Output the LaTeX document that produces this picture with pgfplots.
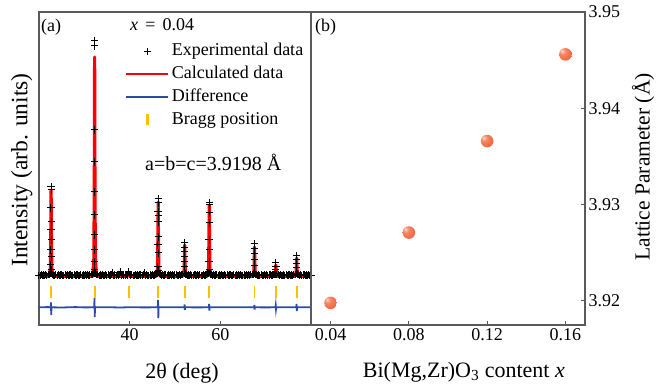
\documentclass[border=0pt]{standalone}
\usepackage{pgfplots}
\pgfplotsset{compat=1.18}
\usepackage{pgfplotstable}
\usepackage{fontspec}
\setmainfont{Liberation Serif}
\definecolor{calcred}{RGB}{255,0,0}
\definecolor{diffblue}{RGB}{45,75,165}
\definecolor{braggyel}{RGB}{255,192,0}
\definecolor{ballc}{RGB}{242,105,65}
\definecolor{axgray}{RGB}{90,90,90}
\pgfdeclareradialshading{myball}{\pgfpoint{-14bp}{14bp}}{%
  color(0bp)=(ballc!25!white); color(12bp)=(ballc!80!white); color(30bp)=(ballc); color(62bp)=(ballc!85!black); color(80bp)=(ballc!85!black)}
\pgfdeclareplotmark{myball}{%
  \pgfpathcircle{\pgfpointorigin}{\pgfplotmarksize}%
  \pgfshadepath{myball}{0}\pgfusepath{}}

\pgfplotstableread{
x y
20.00 49.8
20.25 49.4
20.50 50.3
20.75 49.6
21.00 50.0
21.25 49.5
21.50 50.4
21.75 49.7
22.00 50.2
22.25 50.6
22.50 51.2
22.75 51.5
23.00 50.7
23.25 49.8
23.50 49.5
23.75 50.1
24.00 49.6
24.25 50.3
24.50 49.5
24.75 49.9
25.00 50.4
25.25 49.6
25.50 49.4
25.75 50.1
26.00 49.7
26.25 50.3
26.50 49.5
26.75 49.9
27.00 50.4
27.25 49.5
27.50 49.8
27.75 50.2
28.00 49.6
28.25 49.9
28.50 50.4
28.75 49.4
29.00 49.8
29.25 50.3
29.50 49.6
29.75 50.0
30.00 49.5
30.25 50.2
30.50 49.7
30.75 50.4
31.00 49.5
31.25 49.9
31.50 50.3
31.75 50.7
32.00 51.5
32.25 52.0
32.50 51.8
32.75 50.8
33.00 50.3
33.25 49.6
33.50 50.0
33.75 49.5
34.00 50.2
34.25 49.8
34.50 49.4
34.75 50.1
35.00 49.6
35.25 50.4
35.50 49.5
35.75 49.9
36.00 50.2
36.25 52.8
36.50 49.7
36.75 50.0
37.00 49.5
37.25 50.4
37.50 49.8
37.75 50.1
38.00 53.0
38.25 49.6
38.50 50.2
38.75 49.5
39.00 49.9
39.25 50.3
39.50 49.7
39.75 53.2
40.00 50.5
40.25 49.5
40.50 50.1
40.75 49.8
41.00 49.4
41.25 50.3
41.50 49.7
41.75 50.0
42.00 49.5
42.25 50.2
42.50 49.9
42.75 49.5
43.00 50.1
43.25 52.6
43.50 49.6
43.75 50.3
44.00 49.8
44.25 49.4
44.50 50.0
44.75 49.7
45.00 50.4
45.25 49.5
45.50 49.9
45.75 50.5
46.00 51.2
46.25 51.8
46.50 51.4
46.75 50.6
47.00 49.8
47.25 50.2
47.50 49.5
47.75 49.9
48.00 50.3
48.25 49.6
48.50 50.0
48.75 49.5
49.00 50.2
49.25 49.7
49.50 50.1
49.75 49.5
50.00 49.9
50.25 50.4
50.50 49.6
50.75 49.4
51.00 50.1
51.25 49.8
51.50 50.3
51.75 50.7
52.00 51.1
52.25 51.0
52.50 50.5
52.75 49.7
53.00 50.0
53.25 49.5
53.50 50.2
53.75 49.8
54.00 49.5
54.25 50.3
54.50 49.9
54.75 49.5
55.00 50.1
55.25 49.6
55.50 50.4
55.75 49.8
56.00 49.5
56.25 50.2
56.50 49.7
56.75 50.0
57.00 50.5
57.25 51.1
57.50 51.6
57.75 51.0
58.00 50.4
58.25 49.8
58.50 50.1
58.75 49.5
59.00 49.9
59.25 50.3
59.50 49.6
59.75 50.0
60.00 49.5
60.25 50.2
60.50 49.8
60.75 49.5
61.00 50.1
61.25 49.7
61.50 50.4
61.75 49.6
62.00 49.9
62.25 50.2
62.50 49.5
62.75 49.8
63.00 50.3
63.25 49.7
63.50 50.0
63.75 49.5
64.00 50.1
64.25 49.6
64.50 50.4
64.75 49.8
65.00 49.5
65.25 50.0
65.50 49.7
65.75 50.2
66.00 49.5
66.25 50.1
66.50 49.8
66.75 50.3
67.00 50.5
67.25 51.0
67.50 51.3
67.75 50.8
68.00 50.2
68.25 49.6
68.50 50.0
68.75 49.5
69.00 50.3
69.25 49.8
69.50 49.5
69.75 50.1
70.00 49.7
70.25 50.2
70.50 49.5
70.75 49.9
71.00 50.3
71.25 49.6
71.50 50.0
71.75 50.4
72.00 50.8
72.25 51.0
72.50 50.6
72.75 50.1
73.00 49.6
73.25 50.2
73.50 49.8
73.75 49.5
74.00 50.0
74.25 49.7
74.50 50.3
74.75 49.5
75.00 49.9
75.25 50.2
75.50 49.6
75.75 50.0
76.00 49.8
76.25 50.4
76.50 50.7
76.75 51.2
77.00 50.9
77.25 50.3
77.50 49.7
77.75 50.1
78.00 49.5
78.25 49.9
78.50 50.3
78.75 49.6
79.00 50.0
79.25 49.5
79.50 50.2
79.75 49.8
80.00 49.6
22.66 138
22.68 135
22.64 117
22.70 103
22.65 95
22.69 85
22.63 75
22.71 68
22.62 60
22.72 55
32.26 284
32.28 279
32.25 195
32.29 163
32.24 133
32.30 110
32.23 90
32.31 75
32.22 63
32.32 55
46.28 126
46.30 122
46.27 113
46.31 109
46.26 103
46.32 88
46.25 80
46.33 72
46.24 58
46.34 54
52.13 82
52.15 77
52.12 73
52.16 68
52.11 63
52.17 58
57.54 122
57.56 120
57.53 112
57.57 102
57.52 85
57.58 75
57.51 63
57.59 55
67.53 81
67.55 76
67.52 71
67.56 65
67.51 59
72.24 62
72.26 58
72.23 55
76.83 69
76.85 65
76.82 61
76.86 57
}\expdata

\begin{document}
\begin{tikzpicture}[x=1pt,y=1pt]
\pgfplotsset{
  panel/.style={
    scale only axis, height=313pt,
    axis line style={axgray, line width=1.2pt},
    tick style={axgray, line width=1pt},
    tick align=inside, major tick length=4pt,
    tick label style={font=\fontsize{18}{21}\selectfont},
    label style={font=\fontsize{22}{26}\selectfont},
  }
}
\begin{axis}[panel, width=272pt, at={(39pt,66pt)}, anchor=south west,
  xmin=20, xmax=80, ymin=0, ymax=313,
  xtick={40,60}, xticklabels={40,60}, ytick=\empty, xtick pos=bottom,
  xlabel={2θ (deg)},
  xlabel style={at={(axis description cs:0.526,-0.1534)}, anchor=center},
  ylabel={Intensity (arb. units)},
  ylabel style={at={(axis description cs:-0.0636,0.495)}, anchor=center, font=\fontsize{23.5}{27}\selectfont},
  legend cell align=left,
  legend style={at={(axis description cs:0.318,0.902)}, anchor=north west,
    draw=none, fill=none, inner sep=0pt, row sep=5.8pt,
    font=\fontsize{18}{21}\selectfont,
    nodes={inner xsep=2.5pt, inner ysep=0pt, text height=13pt, text depth=4pt}},
  legend image code/.code={\draw[mark repeat=2,mark phase=2,#1] plot coordinates {(0pt,0pt) (21pt,0pt) (42pt,0pt)};},
]
\addplot[only marks, mark=+, mark size=3.6pt, mark options={line width=1pt}, black] table[x=x,y=y] {\expdata};
\addlegendentry{Experimental data}
\addplot[calcred, line width=3.2pt, line join=round, forget plot] coordinates {
(20,48.8) (22.27,48.8) (22.52,56.8) (22.62,96.75) (22.67,135) (22.72,96.75) (22.82,56.8) (23.07,48.8)
(31.87,48.8) (32.12,67.4) (32.22,169.9) (32.27,268) (32.32,169.9) (32.42,67.4) (32.67,48.8)
(39.5,48.8) (39.75,51.0) (39.8,52) (39.85,51.0) (40.1,48.8)
(45.89,48.8) (46.14,55.8) (46.24,90.2) (46.29,123) (46.34,90.2) (46.44,55.8) (46.69,48.8)
(51.74,48.8) (51.99,52.4) (52.09,66.5) (52.14,80) (52.19,66.5) (52.29,52.4) (52.54,48.8)
(57.15,48.8) (57.40,55.6) (57.50,88.5) (57.55,120) (57.60,88.5) (57.70,55.6) (57.95,48.8)
(67.14,48.8) (67.39,52.2) (67.49,65.4) (67.54,78) (67.59,65.4) (67.69,52.2) (67.94,48.8)
(71.85,48.8) (72.10,50.8) (72.20,55.5) (72.25,60) (72.30,55.5) (72.40,50.8) (72.65,48.8)
(76.44,48.8) (76.69,51.4) (76.79,59.4) (76.84,67) (76.89,59.4) (76.99,51.4) (77.24,48.8)
(80,48.8)
};
\addlegendimage{calcred, line width=1.6pt}
\addlegendentry{Calculated data}
\addplot[diffblue, line width=1.8pt, forget plot] coordinates {
(20,17.7) (22.0,17.9) (22.59,17.7) (22.64,22.5) (22.70,10) (22.75,17.7) (25,17.5) (28,17.9) (30,17.6)
(32.19,17.7) (32.24,27) (32.30,8) (32.35,17.7) (35,17.8) (38,17.5) (40,17.8) (43,17.6)
(46.21,17.7) (46.26,25) (46.32,7) (46.37,17.7) (49,17.8)
(52.06,17.7) (52.11,20.5) (52.17,15) (52.22,17.7) (55,17.6)
(57.47,17.7) (57.52,21) (57.58,14.5) (57.63,17.7) (62,17.8)
(67.46,17.7) (67.51,20) (67.57,15.5) (67.62,17.7) (70,17.6)
(72.17,17.7) (72.22,19.5) (72.28,16) (72.33,17.7) (74,17.8)
(76.76,17.7) (76.81,21) (76.87,14) (76.92,17.7) (80,17.7)
};
\addlegendimage{diffblue, line width=1.6pt}
\addlegendentry{Difference}
\addplot[only marks, mark=|, mark size=6pt, mark options={line width=1.8pt}, braggyel, forget plot] coordinates {
(22.67,33.3) (32.27,33.3) (39.80,33.3) (46.29,33.3) (52.14,33.3) (57.55,33.3) (67.54,33.3) (72.25,33.3) (76.84,33.3)
};
\addlegendimage{legend image code/.code={\draw[braggyel, line width=2.6pt] (21pt,-5.5pt) -- (21pt,5.5pt);}}
\addlegendentry{Bragg position}
\node[anchor=base west, inner sep=0pt, font=\fontsize{18}{21}\selectfont] at (axis description cs:0.0074,0.9377) {(a)};
\node[anchor=base west, inner sep=0pt, font=\fontsize{18}{21}\selectfont] at (axis description cs:0.3346,0.940) {\textit{x}\hspace{0.4em}=\hspace{0.4em}0.04};
\node[anchor=base west, inner sep=0pt, font=\fontsize{20}{24}\selectfont] at (axis description cs:0.3897,0.493) {a=b=c=3.9198 Å};
\end{axis}

\begin{axis}[panel, width=274pt, at={(311pt,66pt)}, anchor=south west,
  xmin=0.03, xmax=0.17, ymin=3.9175, ymax=3.95,
  xtick={0.04,0.08,0.12,0.16}, xticklabels={0.04,0.08,0.12,0.16},
  ytick={3.92,3.93,3.94,3.95}, yticklabels={3.92,3.93,3.94,3.95},
  xtick pos=bottom, ytick pos=right, yticklabel pos=right,
  xlabel={Bi(Mg,Zr)O\textsubscript{3} content \textit{x}},
  xlabel style={at={(axis description cs:0.558,-0.150)}, anchor=center},
  ylabel={Lattice Parameter (Å)},
  ylabel style={at={(axis description cs:1.212,0.505)}, anchor=center, rotate=0, font=\fontsize{21.5}{25}\selectfont},
]
\addplot[only marks, mark=myball, mark size=6.3pt] coordinates {
(0.04,3.9198) (0.08,3.9271) (0.12,3.9366) (0.16,3.9456)
};
\node[anchor=base west, inner sep=0pt, font=\fontsize{18}{21}\selectfont] at (axis description cs:0.0146,0.9377) {(b)};
\end{axis}
\pgfresetboundingbox
\path[use as bounding box] (0pt,0pt) rectangle (657pt,391pt);
\end{tikzpicture}
\end{document}
